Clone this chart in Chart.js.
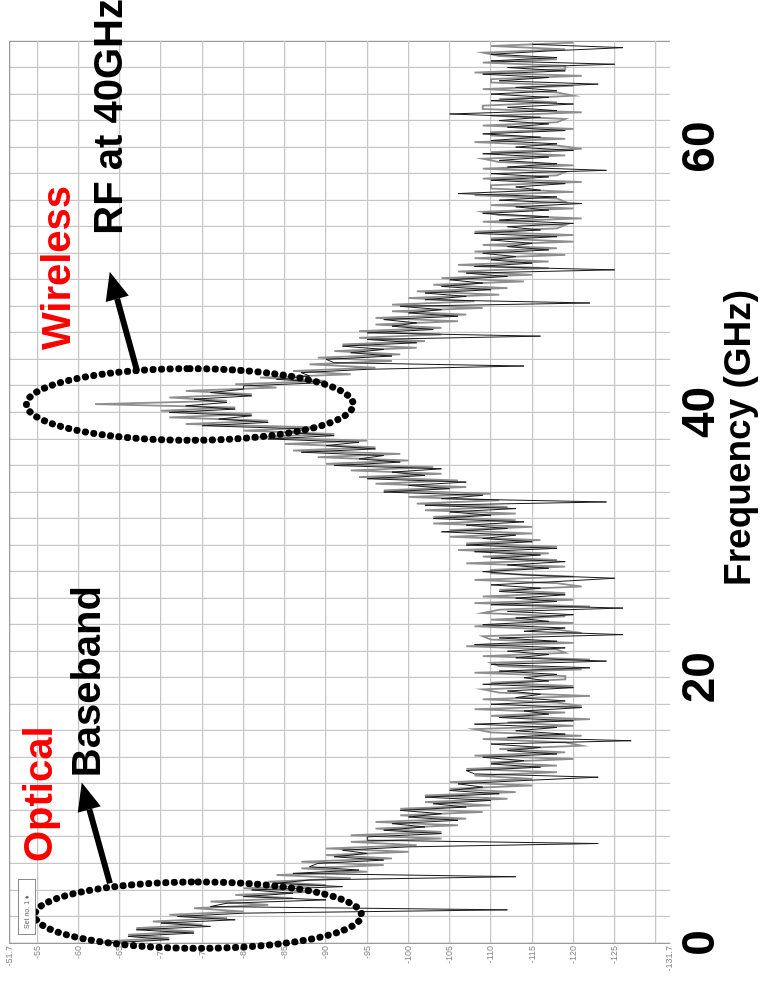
<!DOCTYPE html>
<html>
<head>
<meta charset="utf-8">
<script src="https://cdn.jsdelivr.net/npm/chart.js@4.4.0/dist/chart.umd.min.js"></script>
<style>
  html, body { margin: 0; padding: 0; background: #fff; overflow: hidden; }
  /* the figure is drawn landscape and turned a quarter turn, like the original slide */
  #wrap { position: absolute; left: 0; top: 0; width: 984px; height: 760px;
          transform-origin: 0 0; transform: translateY(984px) rotate(-90deg); }
</style>
</head>
<body>
<div id="wrap"><canvas id="chart" width="984" height="760"></canvas></div>
<script>
// spectrum trace, dBm
// dark trace: one value every 0.25 GHz starting at 0 GHz
const darkPower = [
  -63, -71, -66, -74,   -67, -76, -70, -79,   -72, -80, -112, -76,  -78, -90, -80, -86,
  -81, -92, -84, -88,   -113, -86, -94, -88,  -89, -97, -91, -95,   -92, -100, -123, -95,
  -95, -104, -97, -102, -98, -106, -100, -104, -99, -107, -103, -110, -102, -111, -105, -109,
  -106, -114, -123, -108, -107, -116, -110, -114, -109, -118, -112, -116, -110, -127, -112, -119,
  -113, -118, -108, -120, -111, -117, -114, -121, -110, -119, -113, -116, -112, -120, -109, -117,
  -114, -118, -111, -122, -110, -124, -113, -117, -112, -119, -108, -118, -111, -126, -114, -119,
  -109, -117, -113, -120, -112, -126, -110, -118, -113, -119, -111, -116, -110, -118, -125, -114,
  -109, -117, -112, -119, -110, -116, -108, -118, -107, -115, -109, -113, -104, -112, -107, -114,
  -103, -110, -105, -113, -102, -124, -104, -109, -97, -105, -100, -107, -95, -102, -98, -104,
  -91, -99, -94, -97,   -87, -96, -90, -94,   -83, -91, -85, -88,   -75, -83, -77, -81,
  -71, -79, -73, -78,   -74, -81, -76, -80,   -80, -90, -84, -88,   -87, -95, -114, -91,
  -90, -98, -93, -97,   -92, -101, -95, -116, -95, -103, -98, -101, -97, -106, -100, -104,
  -99, -122, -102, -107, -102, -110, -104, -109, -105, -112, -107, -125, -108, -115, -110, -113,
  -109, -117, -112, -115, -110, -118, -108, -116, -112, -120, -111, -117, -109, -117, -113, -121,
  -111, -118, -106, -116, -113, -119, -110, -117, -110, -124, -112, -118, -111, -117, -109, -120,
  -113, -118, -110, -116, -109, -119, -112, -117, -111, -116, -105, -118, -112, -120, -110, -117,
  -110, -118, -113, -123, -111, -117, -109, -119, -112, -125, -110, -118, -110, -117, -126, -115
];
// gray trace: one value every 0.25 GHz starting at 0.125 GHz
const grayPower = [
  -63, -71, -66, -74,   -67, -75, -69, -78,   -71, -80, -74, -83,   -76, -86, -79, -89,
  -80, -90, -83, -93,   -84, -95, -87, -97,   -87, -98, -90, -100,  -90, -101, -93, -104,
  -93, -104, -96, -106, -96, -107, -99, -109, -99, -110, -102, -112, -102, -113, -105, -115,
  -105, -115, -108, -118, -107, -118, -110, -120, -108, -119, -111, -121, -119, -109, -121, -110,
  -108, -120, -112, -122, -110, -119, -108, -121, -118, -109, -122, -111, -109, -120, -110, -119,
  -119, -108, -121, -111, -110, -122, -109, -119, -118, -107, -120, -110, -109, -121, -118, -108,
  -120, -110, -119, -109, -111, -122, -108, -120, -109, -119, -111, -121, -118, -108, -120, -110,
  -110, -119, -107, -118, -109, -117, -106, -118, -107, -116, -105, -115, -105, -115, -103, -113,
  -103, -113, -102, -112, -101, -111, -100, -110, -97, -107, -96, -106, -94, -104, -93, -103,
  -90, -100, -89, -99,  -86, -96, -85, -95,   -81, -91, -80, -89,   -73, -83, -71, -81,
  -70, -79, -62, -78,   -71, -81, -73, -84,   -79, -90, -82, -93,   -86, -96, -88, -98,
  -89, -99, -91, -101,  -92, -102, -94, -104, -94, -104, -96, -106, -96, -107, -98, -109,
  -98, -108, -100, -111, -101, -112, -103, -114, -104, -115, -106, -117, -106, -117, -108, -119,
  -108, -118, -109, -120, -110, -120, -108, -118, -119, -109, -121, -111, -109, -120, -110, -119,
  -118, -108, -120, -110, -110, -121, -109, -118, -119, -109, -120, -111, -109, -119, -110, -121,
  -118, -108, -119, -110, -110, -120, -109, -118, -119, -110, -121, -109, -109, -118, -111, -120,
  -118, -109, -120, -110, -110, -121, -108, -119, -119, -109, -118, -111, -109, -119, -110, -120
];
const darkStep = 0.25, grayStep = 0.25, grayStart = 0.125;

// axes
const freqMin = 0, freqMax = 68, freqGrid = 2;
const freqLabels = [0, 20, 40, 60];
const powerMin = -131.7, powerMax = -51.7;
const powerTicks = [-51.7, -55, -60, -65, -70, -75, -80, -85, -90, -95, -100, -105,
                    -110, -115, -120, -125, -130, -131.7];
const powerUnlabelled = [-130];

const darkPts = darkPower.map((p, i) => ({x: i * darkStep, y: p}));
const grayPts = grayPower.map((p, i) => ({x: grayStart + i * grayStep, y: p}));

// annotations, in axis units (GHz, dBm)
const rings = [
  {f: 2.1, p: -74.5, df: 2.5, dp: 19.8},   // baseband
  {f: 40.6, p: -73.5, df: 2.7, dp: 19.8}   // 40 GHz
];
const arrows = [
  {f1: 4.5, p1: -63.8, f2: 12.1, p2: -60.4},
  {f1: 43.1, p1: -67.1, f2: 50.6, p2: -63.8}
];
const notes = [
  {text: 'Optical', f: 6.1, p: -56.8, color: '#ff0000'},
  {text: 'Baseband', f: 12.5, p: -62.6, color: '#000000'},
  {text: 'Wireless', f: 44.7, p: -59.0, color: '#ff0000'},
  {text: 'RF at 40GHz', f: 53.4, p: -65.3, color: '#000000'}
];

const FONT = '"Liberation Sans", Arial, sans-serif';

function drawArrow(ctx, x1, y1, x2, y2) {
  const a = Math.atan2(y2 - y1, x2 - x1), len = 28, hw = 12;
  const bx = x2 - len * Math.cos(a), by = y2 - len * Math.sin(a);
  ctx.setLineDash([]);
  ctx.lineCap = 'butt';
  ctx.lineWidth = 6;
  ctx.beginPath();
  ctx.moveTo(x1, y1);
  ctx.lineTo(bx, by);
  ctx.stroke();
  ctx.beginPath();
  ctx.moveTo(x2, y2);
  ctx.lineTo(bx + hw * Math.sin(a), by - hw * Math.cos(a));
  ctx.lineTo(bx - hw * Math.sin(a), by + hw * Math.cos(a));
  ctx.closePath();
  ctx.fill();
}

const annotate = {
  id: 'annotate',
  afterDraw(chart) {
    const {ctx, chartArea} = chart;
    const x = chart.scales.x, y = chart.scales.y;
    ctx.save();
    ctx.strokeStyle = '#000';
    ctx.fillStyle = '#000';

    // dotted rings
    rings.forEach(r => {
      const cx = x.getPixelForValue(r.f), cy = y.getPixelForValue(r.p);
      const rx = Math.abs(x.getPixelForValue(r.f + r.df) - cx);
      const ry = Math.abs(y.getPixelForValue(r.p + r.dp) - cy);
      ctx.setLineDash([0.1, 8.4]);
      ctx.lineCap = 'round';
      ctx.lineWidth = 7;
      ctx.beginPath();
      ctx.ellipse(cx, cy, rx, ry, 0, 0, Math.PI * 2);
      ctx.stroke();
    });

    arrows.forEach(a => drawArrow(ctx,
      x.getPixelForValue(a.f1), y.getPixelForValue(a.p1),
      x.getPixelForValue(a.f2), y.getPixelForValue(a.p2)));

    ctx.font = 'bold 40px ' + FONT;
    ctx.textAlign = 'left';
    ctx.textBaseline = 'alphabetic';
    notes.forEach(n => {
      ctx.fillStyle = n.color;
      ctx.fillText(n.text, x.getPixelForValue(n.f), y.getPixelForValue(n.p));
    });

    // axis title
    ctx.fillStyle = '#000';
    ctx.font = 'bold 37px ' + FONT;
    ctx.textAlign = 'center';
    ctx.textBaseline = 'middle';
    ctx.fillText('Frequency (GHz)', chartArea.left + 0.56 * (chartArea.right - chartArea.left), 740);

    // instrument legend box
    const lx = chartArea.left + 8, ly = chartArea.top + 8;
    ctx.fillStyle = '#fff';
    ctx.fillRect(lx, ly, 55, 17);
    ctx.strokeStyle = '#8c8c8c';
    ctx.lineWidth = 1;
    ctx.strokeRect(lx + 0.5, ly + 0.5, 55, 17);
    ctx.fillStyle = '#666';
    ctx.font = '7px ' + FONT;
    ctx.textAlign = 'left';
    ctx.fillText('Set no. 1 \u2666', lx + 6, ly + 9);
    ctx.restore();
  }
};

new Chart(document.getElementById('chart'), {
  type: 'scatter',
  data: {
    datasets: [
      {label: 'Set no. 1', data: darkPts, showLine: true, borderColor: '#1a1a1a',
       borderWidth: 1, pointRadius: 0, tension: 0},
      {label: 'Set no. 1 (band)', data: grayPts, showLine: true, borderColor: '#8e8e8e',
       borderWidth: 1.8, pointRadius: 0, tension: 0}
    ]
  },
  options: {
    responsive: false,
    animation: false,
    devicePixelRatio: 1,
    layout: {padding: {top: 10, right: 41, left: 0, bottom: 0}},
    plugins: {legend: {display: false}, tooltip: {enabled: false}},
    scales: {
      x: {
        type: 'linear', position: 'bottom', min: freqMin, max: freqMax,
        afterFit: s => { s.height = 90; },
        border: {display: false},
        grid: {
          drawTicks: false,
          color: c => (c.tick && c.tick.value === freqMax) ? '#9a9a9a' : '#c6c6c6',
          lineWidth: 1.2
        },
        ticks: {
          stepSize: freqGrid, autoSkip: false, maxRotation: 0, padding: 4,
          color: '#000', font: {family: FONT, size: 46, weight: 'bold'},
          callback: v => freqLabels.includes(v) ? String(v) : ''
        }
      },
      y: {
        type: 'linear', position: 'left', min: powerMin, max: powerMax,
        afterFit: s => { s.width = 41; },
        afterBuildTicks: s => { s.ticks = powerTicks.map(v => ({value: v})); },
        border: {display: true, color: '#9a9a9a', width: 1.2},
        grid: {
          drawTicks: false,
          color: c => {
            const v = c.tick ? c.tick.value : null;
            if (v === powerMin) return 'rgba(0,0,0,0)';
            if (v === powerMax) return '#9a9a9a';
            return '#c6c6c6';
          },
          lineWidth: 1.2
        },
        ticks: {
          padding: 3, autoSkip: false, color: '#8a8a8a',
          font: {family: FONT, size: 9},
          callback: v => powerUnlabelled.includes(v) ? '' : String(v)
        }
      }
    }
  },
  plugins: [annotate]
});
</script>
</body>
</html>
